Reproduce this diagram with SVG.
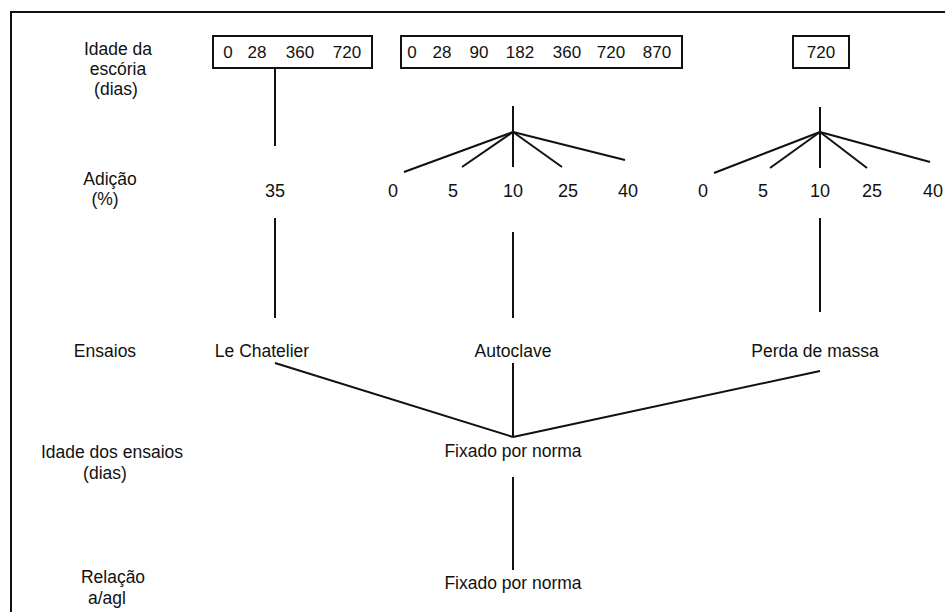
<svg xmlns="http://www.w3.org/2000/svg" width="945" height="612" viewBox="0 0 945 612">
<style>
text{font-family:"Liberation Sans",Arial,sans-serif;fill:#111;text-anchor:middle}
.t{font-size:17.5px}
.n{font-size:18px}
.b{font-size:17px}
.box{fill:none;stroke:#111;stroke-width:2}
.c{stroke:#111;stroke-width:2;fill:none;stroke-linecap:butt}
</style>
<rect width="945" height="612" fill="#fff"/>
<g id="frame"><path class="c" d="M11 612 V12 H945"/></g>
<g id="row-labels">
<text class="t" x="118" y="55">Idade da</text>
<text class="t" x="118" y="75">escória</text>
<text class="t" x="116" y="95">(dias)</text>
<text class="t" x="110" y="185">Adição</text>
<text class="t" x="105" y="205">(%)</text>
<text class="t" x="105" y="357">Ensaios</text>
<text class="t" x="112" y="458">Idade dos ensaios</text>
<text class="t" x="105" y="479">(dias)</text>
<text class="t" x="113" y="583">Relação</text>
<text class="t" x="107" y="604">a/agl</text>
</g>
<g id="box1">
<rect class="box" x="213" y="36" width="159" height="32"/>
<text class="b" x="228" y="58">0</text><text class="b" x="257" y="58">28</text><text class="b" x="300" y="58">360</text><text class="b" x="347" y="58">720</text>
</g>
<g id="box2">
<rect class="box" x="401" y="36" width="281" height="32"/>
<text class="b" x="412" y="58">0</text><text class="b" x="442" y="58">28</text><text class="b" x="479" y="58">90</text><text class="b" x="520" y="58">182</text><text class="b" x="567" y="58">360</text><text class="b" x="611" y="58">720</text><text class="b" x="657" y="58">870</text>
</g>
<g id="box3">
<rect class="box" x="793" y="36" width="56" height="32"/>
<text class="b" x="821" y="58">720</text>
</g>
<g id="add1"><text class="n" x="275" y="197">35</text></g>
<g id="add2">
<text class="n" x="393" y="197">0</text><text class="n" x="453" y="197">5</text><text class="n" x="513" y="197">10</text><text class="n" x="568" y="197">25</text><text class="n" x="628" y="197">40</text>
</g>
<g id="add3">
<text class="n" x="703" y="197">0</text><text class="n" x="763" y="197">5</text><text class="n" x="820" y="197">10</text><text class="n" x="872" y="197">25</text><text class="n" x="933" y="197">40</text>
</g>
<g id="test-lechatelier"><text class="t" x="262" y="357">Le Chatelier</text></g>
<g id="test-autoclave"><text class="t" x="513" y="357">Autoclave</text></g>
<g id="test-perda"><text class="t" x="815" y="357">Perda de massa</text></g>
<g id="age-tests"><text class="t" x="513" y="457">Fixado por norma</text></g>
<g id="ratio"><text class="t" x="513" y="589">Fixado por norma</text></g>
<g id="connectors">
<line class="c" x1="275" y1="68" x2="275" y2="146"/>
<line class="c" x1="513" y1="106" x2="513" y2="167"/>
<line class="c" x1="513" y1="132" x2="404" y2="172"/>
<line class="c" x1="513" y1="132" x2="462" y2="167"/>
<line class="c" x1="513" y1="132" x2="562" y2="167"/>
<line class="c" x1="513" y1="132" x2="625" y2="160"/>
<line class="c" x1="820" y1="107" x2="820" y2="168"/>
<line class="c" x1="820" y1="132" x2="714" y2="173"/>
<line class="c" x1="820" y1="132" x2="770" y2="168"/>
<line class="c" x1="820" y1="132" x2="867" y2="168"/>
<line class="c" x1="820" y1="132" x2="930" y2="162"/>
<line class="c" x1="275" y1="218" x2="275" y2="318"/>
<line class="c" x1="513" y1="232" x2="513" y2="318"/>
<line class="c" x1="820" y1="218" x2="820" y2="312"/>
<line class="c" x1="275" y1="363" x2="513" y2="437"/>
<line class="c" x1="513" y1="363" x2="513" y2="437"/>
<line class="c" x1="820" y1="371" x2="513" y2="437"/>
<line class="c" x1="513" y1="477" x2="513" y2="570"/>
</g>
</svg>
